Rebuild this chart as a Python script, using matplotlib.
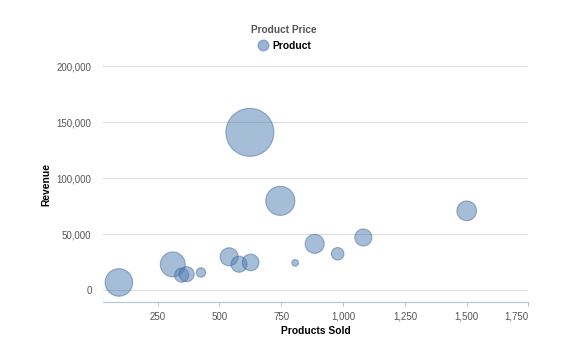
import matplotlib.pyplot as plt
from matplotlib.lines import Line2D
from matplotlib.ticker import FuncFormatter

plt.rcParams['font.family'] = ['Liberation Sans', 'DejaVu Sans']

# products sold, revenue and unit price for each product
sold = [623, 746, 1500, 885, 1082, 978, 806, 93, 311, 347, 367, 425, 539, 579, 626]
revenue = [141000, 79800, 70900, 41400, 47100, 32500, 24400, 6900, 23000,
           13400, 14300, 15800, 29800, 23200, 24800]
price = [220, 124, 76, 73, 63, 40, 10, 116, 103, 48, 53, 24, 68, 58, 61]

x_ticks = [250, 500, 750, 1000, 1250, 1500, 1750]
y_ticks = [0, 50000, 100000, 150000, 200000]

# bubble radius (px) grows linearly with price
r_min, r_max = 3.3, 24
p_min, p_max = min(price), max(price)
radius = [r_min + (p - p_min) / (p_max - p_min) * (r_max - r_min) for p in price]
sizes = [(2 * r * 0.72) ** 2 for r in radius]

fig = plt.figure(figsize=(5.74, 3.4), dpi=100)
ax = fig.add_axes([0.18, 0.112, 0.7407, 0.693])

ax.scatter(sold, revenue, s=sizes, color='#4f7cb3', alpha=0.5,
           edgecolors='#3d6699', linewidths=0.8, zorder=3)

ax.set_xlim(30, 1750)
ax.set_ylim(-10500, 200000)
ax.set_xticks(x_ticks)
ax.set_yticks(y_ticks)
ax.xaxis.set_major_formatter(FuncFormatter(lambda v, _: f'{int(v):,}'))
ax.yaxis.set_major_formatter(FuncFormatter(lambda v, _: f'{int(v):,}'))

ax.grid(axis='y', color='#dcdcdc', linewidth=0.8, zorder=0)
for side in ['top', 'right', 'left']:
    ax.spines[side].set_visible(False)
ax.spines['bottom'].set_color('#b3c5dc')
ax.spines['bottom'].set_linewidth(0.8)

ax.tick_params(axis='x', length=3, width=0.8, color='#b3c5dc', pad=4,
               labelsize=7, labelcolor='#555555')
ax.tick_params(axis='y', length=0, pad=8.5, labelsize=7, labelcolor='#555555')
# keep the last x label inside the plot edge
ax.get_xticklabels()[-1].set_ha('right')

ax.set_xlabel('Products Sold', fontsize=7.4, fontweight='bold', labelpad=3)
ax.set_ylabel('Revenue', fontsize=7.4, fontweight='bold', labelpad=4)

fig.text(0.494, 0.911, 'Product Price', ha='center', va='center',
         fontsize=7.3, fontweight='bold', color='#555555')
handle = Line2D([], [], marker='o', linestyle='none', markersize=7.5,
                markerfacecolor='#9ab3d5', markeredgecolor='#85a2c9')
leg = fig.legend([handle], ['Product'], loc='center', bbox_to_anchor=(0.494, 0.866),
                 frameon=False, handletextpad=0.3, handlelength=1.2,
                 prop={'size': 7.4, 'weight': 'bold'})

fig.savefig('out.png', dpi=100)
